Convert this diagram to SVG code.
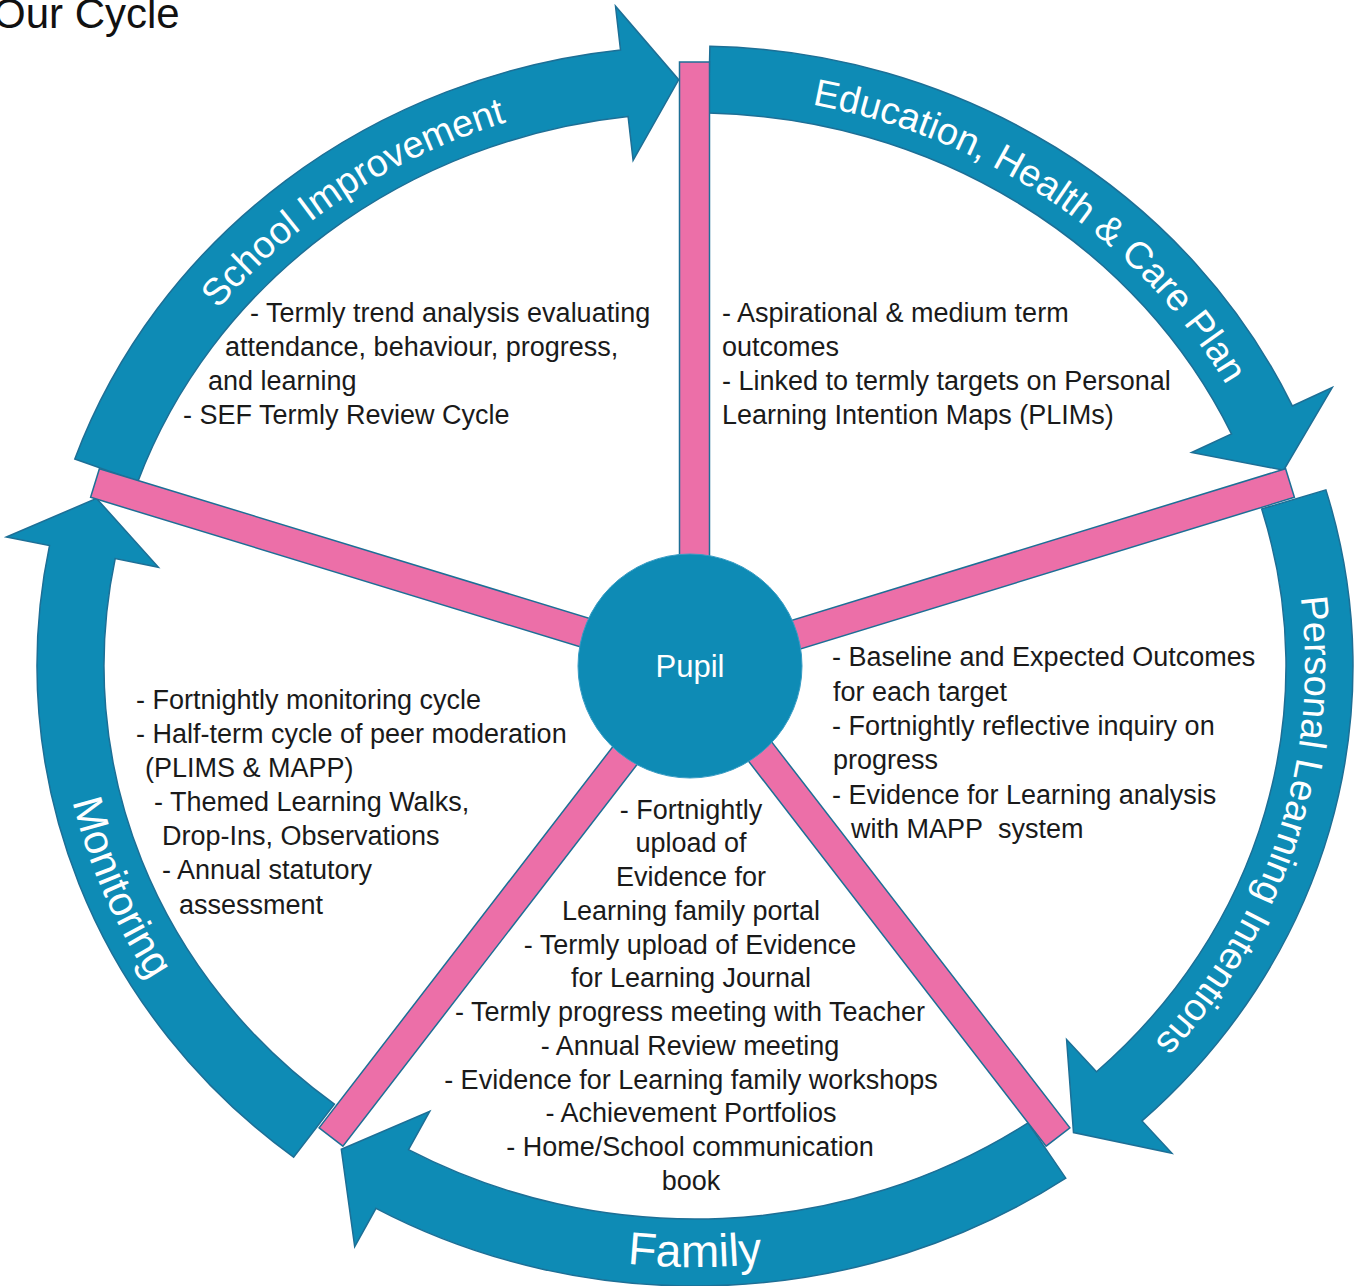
<svg xmlns="http://www.w3.org/2000/svg" width="1359" height="1286" viewBox="0 0 1359 1286">
<defs>
<style>
.arrow{fill:#0e8bb5;stroke:#1d6f96;stroke-width:1.5;stroke-linejoin:miter}
.spoke{fill:#ec6fa8;stroke:#1d6f96;stroke-width:1.5}
.band{font-family:"Liberation Sans",Arial,sans-serif;fill:#ffffff;font-size:38px}
.body{font-family:"Liberation Sans",Arial,sans-serif;fill:#1a1a1a;font-size:27px}
.mid{text-anchor:middle}
</style>
<path id="pSI" d="M 142.2 424.3 A 610 572 0 0 1 641.8 96.2"/>
<path id="pEH" d="M 737.6 95.4 A 610 572 0 0 1 1260.6 451.7"/>
<path id="pPL" d="M 1284.2 518.0 A 610 572 0 0 1 1095.2 1097.7"/>
<path id="pFA" d="M 375.5 1186.5 A 639 601 0 0 0 1014.5 1186.5"/>
<path id="pMO" d="M 62.2 582.3 A 639 601 0 0 0 301.6 1139.6"/>
</defs>
<rect width="1359" height="1286" fill="#ffffff"/>
<g id="title">
<text x="-7" y="28" font-family="Liberation Sans, Arial, sans-serif" font-size="42" fill="#111">Our Cycle</text>
</g>
<g id="school-improvement">
<path class="arrow" d="M 74.8 459.0 A 658 620 0 0 1 620.5 50.0 L 615.5 6.2 L 678.7 79.7 L 633.1 160.3 L 628.1 116.5 A 591 553 0 0 0 137.9 481.4 Z"/>
<text class="band"><textPath href="#pSI" startOffset="50%" text-anchor="middle">School Improvement</textPath></text>
<text class="body" x="250" y="322">- Termly trend analysis evaluating</text>
<text class="body" x="225" y="356">attendance, behaviour, progress,</text>
<text class="body" x="208" y="390">and learning</text>
<text class="body" x="183" y="424">- SEF Termly Review Cycle</text>
</g>
<g id="ehcp">
<path class="arrow" d="M 709.9 46.2 A 658 620 0 0 1 1292.3 405.9 L 1332.3 387.5 L 1283.7 470.2 L 1191.6 452.5 L 1231.5 434.0 A 591 553 0 0 0 708.4 113.1 Z"/>
<text class="band"><textPath href="#pEH" startOffset="50%" text-anchor="middle">Education, Health &amp; Care Plan</textPath></text>
<text class="body" x="722" y="322">- Aspirational &amp; medium term</text>
<text class="body" x="722" y="356">outcomes</text>
<text class="body" x="722" y="390">- Linked to termly targets on Personal</text>
<text class="body" x="722" y="424">Learning Intention Maps (PLIMs)</text>
</g>
<g id="personal-learning-intentions">
<path class="arrow" d="M 1325.9 489.9 A 658 620 0 0 1 1142.0 1120.9 L 1171.9 1153.2 L 1073.5 1132.6 L 1066.6 1039.5 L 1096.5 1071.7 A 591 553 0 0 0 1261.7 508.9 Z"/>
<text class="band"><textPath href="#pPL" startOffset="50%" text-anchor="middle">Personal Learning Intentions</textPath></text>
<text class="body" x="832" y="666">- Baseline and Expected Outcomes</text>
<text class="body" x="833" y="701">for each target</text>
<text class="body" x="832" y="735">- Fortnightly reflective inquiry on</text>
<text class="body" x="833" y="769">progress</text>
<text class="body" x="832" y="804">- Evidence for Learning analysis</text>
<text class="body" x="851" y="838">with MAPP&#160; system</text>
</g>
<g id="family">
<path class="arrow" d="M 1065.8 1178.2 A 658 620 0 0 1 376.0 1208.3 L 354.7 1246.7 L 341.3 1149.3 L 429.8 1111.2 L 408.5 1149.7 A 591 553 0 0 0 1028.0 1122.8 Z"/>
<text class="band" style="font-size:46px"><textPath href="#pFA" startOffset="50%" text-anchor="middle">Family</textPath></text>
<text class="body mid" x="691" y="819">- Fortnightly</text>
<text class="body mid" x="691" y="852">upload of</text>
<text class="body mid" x="691" y="886">Evidence for</text>
<text class="body mid" x="691" y="920">Learning family portal</text>
<text class="body mid" x="690" y="954">- Termly upload of Evidence</text>
<text class="body mid" x="691" y="987">for Learning Journal</text>
<text class="body mid" x="690" y="1021">- Termly progress meeting with Teacher</text>
<text class="body mid" x="690" y="1055">- Annual Review meeting</text>
<text class="body mid" x="691" y="1089">- Evidence for Learning family workshops</text>
<text class="body mid" x="691" y="1122">- Achievement Portfolios</text>
<text class="body mid" x="690" y="1156">- Home/School communication</text>
<text class="body mid" x="691" y="1190">book</text>
</g>
<g id="monitoring">
<path class="arrow" d="M 293.6 1157.2 A 658 620 0 0 1 49.5 545.6 L 6.3 537.1 L 96.5 498.4 L 158.4 567.2 L 115.2 558.6 A 591 553 0 0 0 334.4 1104.1 Z"/>
<text class="band" style="font-size:42px"><textPath href="#pMO" startOffset="50%" text-anchor="middle">Monitoring</textPath></text>
<text class="body" x="136" y="709">- Fortnightly monitoring cycle</text>
<text class="body" x="136" y="743">- Half-term cycle of peer moderation</text>
<text class="body" x="145" y="777">(PLIMS &amp; MAPP)</text>
<text class="body" x="154" y="811">- Themed Learning Walks,</text>
<text class="body" x="162" y="845">Drop-Ins, Observations</text>
<text class="body" x="162" y="879">- Annual statutory</text>
<text class="body" x="179" y="914">assessment</text>
</g>
<g id="connectors">
<polygon class="spoke" points="679.5,666 709.5,666 709.5,62 679.5,62"/>
<polygon class="spoke" points="689.6,651.7 698.4,680.3 1294.4,497.3 1285.6,468.7"/>
<polygon class="spoke" points="705.9,656.8 682.1,675.2 1046.1,1146.2 1069.9,1127.8"/>
<polygon class="spoke" points="682.1,656.8 705.9,675.2 342.9,1146.2 319.1,1127.8"/>
<polygon class="spoke" points="698.4,651.7 689.6,680.3 90.6,497.3 99.4,468.7"/>
</g>
<g id="pupil">
<circle cx="690" cy="666" r="112" fill="#0e8bb5" stroke="#3a9cc4" stroke-width="1"/>
<text x="690" y="677" text-anchor="middle" font-family="Liberation Sans, Arial, sans-serif" font-size="31" fill="#ffffff">Pupil</text>
</g>
</svg>
